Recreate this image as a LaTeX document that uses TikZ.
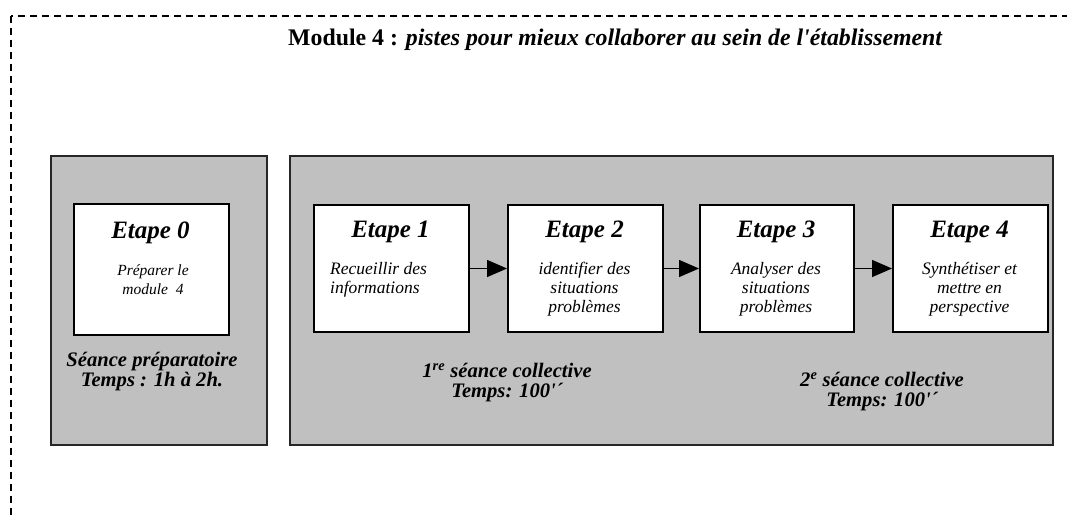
\documentclass[tikz,border=0pt]{standalone}
\usepackage{fontspec}
\setmainfont{Liberation Serif}
\usetikzlibrary{arrows.meta}
\definecolor{panelgray}{HTML}{C0C0C0}
\begin{document}
\begin{tikzpicture}[x=1pt,y=-1pt,
  panel/.style={draw=black!85,line width=1.6pt,fill=panelgray,anchor=north west,inner sep=0pt},
  stepbox/.style={draw=black,line width=2pt,fill=white,anchor=north west,inner sep=0pt},
  steptitle/.style={anchor=base,inner sep=0pt,font=\fontsize{25}{28}\selectfont\bfseries\itshape},
  stepbody/.style={anchor=north,inner sep=0pt,align=center,font=\fontsize{17.5}{19}\selectfont\itshape},
  seance/.style={anchor=north,inner sep=0pt,align=center,font=\fontsize{20.6}{20}\selectfont\bfseries\itshape},
  flow/.style={line width=1.6pt,-{Triangle[length=20pt,width=17pt]}},
  frame/.style={dash pattern=on 7pt off 5pt,line width=1.6pt}]
\useasboundingbox (0,0) rectangle (1067,514);
\begin{scope}
\clip (0,0) rectangle (1067,514);
\draw[frame] (11,16) rectangle (1100,560);
\end{scope}
\node[anchor=base west,inner sep=0pt,font=\fontsize{23.8}{26}\selectfont\bfseries] (title) at (288,45)
  {Module 4 : \textit{pistes pour mieux collaborer au sein de l\textquotesingle établissement}};
% panels
\node[panel,minimum width=216,minimum height=289] (p0) at (50,155) {};
\node[panel,minimum width=763,minimum height=289] (p1) at (289,155) {};
% step boxes
\node[stepbox,minimum width=155,minimum height=131] (b0) at (73,203) {};
\node[stepbox,minimum width=155,minimum height=127] (b1) at (313,204) {};
\node[stepbox,minimum width=155,minimum height=127] (b2) at (507,204) {};
\node[stepbox,minimum width=154,minimum height=127] (b3) at (699,204) {};
\node[stepbox,minimum width=155,minimum height=127] (b4) at (892,204) {};
% titles
\node[steptitle] (t0) at (150.5,238) {Etape 0};
\node[steptitle] (t1) at (390.5,237) {Etape 1};
\node[steptitle] (t2) at (584.5,237) {Etape 2};
\node[steptitle] (t3) at (776,237) {Etape 3};
\node[steptitle] (t4) at (969.5,237) {Etape 4};
% bodies
\node[stepbody,font=\fontsize{15.5}{19}\selectfont\itshape] (d0) at (153,265) {Préparer le\\module~~4};
\node[stepbody,anchor=north west,align=left] (d1) at (330,262) {Recueillir des\\informations};
\node[stepbody] (d2) at (584.5,262) {identifier des\\situations\\problèmes};
\node[stepbody] (d3) at (776,262) {Analyser des\\situations\\problèmes};
\node[stepbody] (d4) at (969.5,262) {Synthétiser et\\mettre en\\perspective};
% arrows
\draw[flow] (b1.east) -- (b2.west);
\draw[flow] (b2.east) -- (b3.west);
\draw[flow] (b3.east) -- (b4.west);
% seance labels
\node[seance] (s0) at (152,352) {Séance préparatoire\\Temps : 1h à 2h.};
\node[seance] (s1) at (507,363) {1\textsuperscript{re} séance collective\\Temps: 100\textquotesingle´};
\node[seance] (s2) at (882,372) {2\textsuperscript{e} séance collective\\Temps: 100\textquotesingle´};
\end{tikzpicture}
\end{document}
